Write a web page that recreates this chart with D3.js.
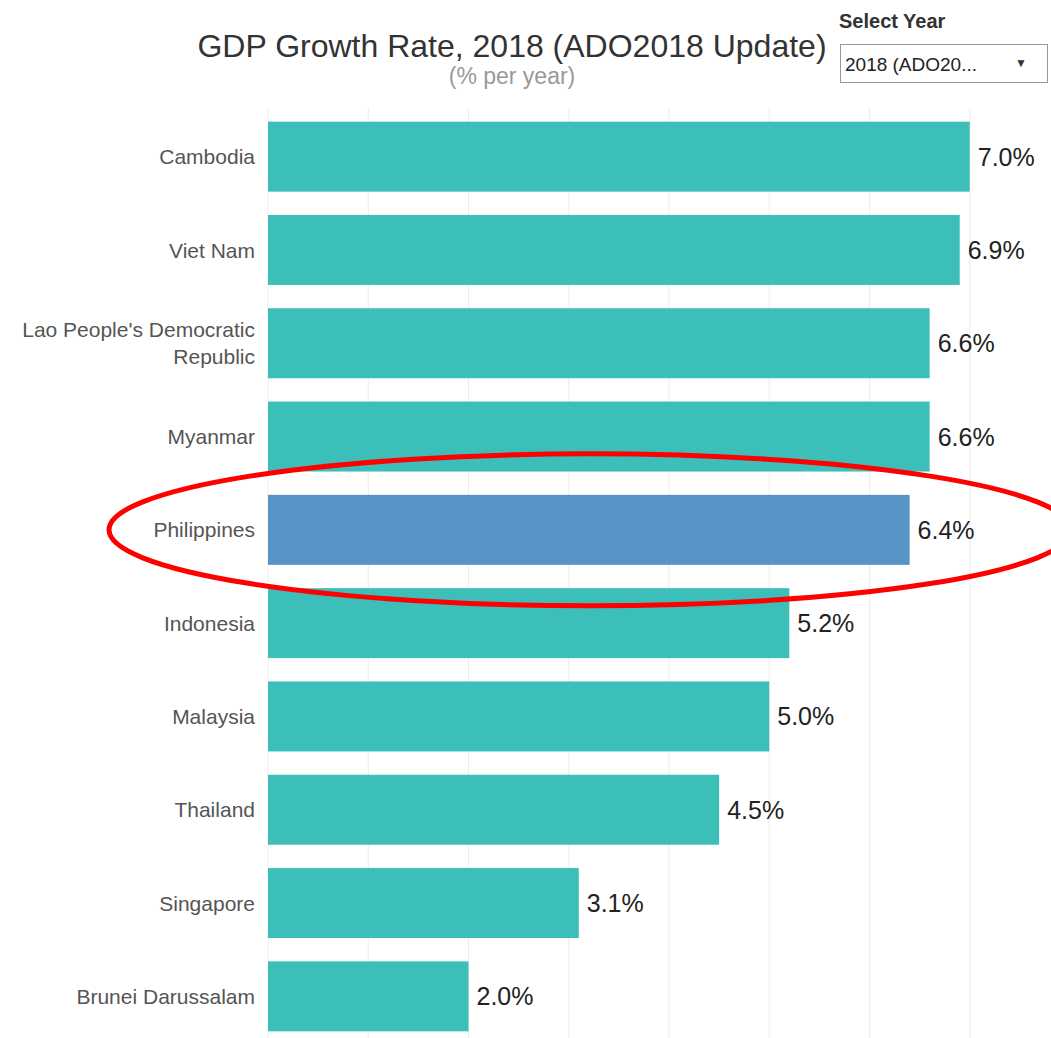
<!DOCTYPE html>
<html><head><meta charset="utf-8">
<script src="https://cdn.jsdelivr.net/npm/d3@7"></script>
<style>
body{margin:0;background:#fff;font-family:Arial,"Liberation Sans",sans-serif;}
</style></head>
<body><svg id="c" width="1051" height="1038"></svg>
<script>
const countries = ["Cambodia","Viet Nam","Lao People's Democratic Republic","Myanmar","Philippines","Indonesia","Malaysia","Thailand","Singapore","Brunei Darussalam"];
const growth = [7.0,6.9,6.6,6.6,6.4,5.2,5.0,4.5,3.1,2.0];
const highlight = ["Philippines"];
const gridTicks = [0,1,2,3,4,5,6,7,8];
const labelLines = {"Lao People's Democratic Republic":["Lao People's Democratic","Republic"]};

const svg = d3.select("#c");
const x = d3.scaleLinear().domain([0,8]).range([268,1070]);
const y = d3.scaleBand().domain(countries).range([110,1043]).paddingInner(0.25).paddingOuter(0.125);

// gridlines
svg.append("g").selectAll("line").data(gridTicks).join("line")
  .attr("x1",d=>x(d)).attr("x2",d=>x(d)).attr("y1",108).attr("y2",1038)
  .attr("stroke","#ececec").attr("stroke-width",1);

// bars
svg.append("g").selectAll("rect").data(countries).join("rect")
  .attr("x",x(0)).attr("y",d=>y(d)).attr("height",y.bandwidth())
  .attr("width",(d,i)=>x(growth[i])-x(0))
  .attr("fill",d=>highlight.includes(d)?"#5893c8":"#3bbfb8");

// value labels
svg.append("g").selectAll("text").data(countries).join("text")
  .attr("x",(d,i)=>x(growth[i])+8).attr("y",d=>y(d)+y.bandwidth()/2)
  .attr("dy","0.36em").attr("font-size",25).attr("fill","#222")
  .text((d,i)=>growth[i].toFixed(1)+"%");

// category labels
const lab = svg.append("g").selectAll("text").data(countries).join("text")
  .attr("x",255).attr("text-anchor","end").attr("font-size",21).attr("fill","#555");
lab.each(function(d){
  const lines = labelLines[d]||[d];
  const t = d3.select(this);
  const cy = y(d)+y.bandwidth()/2;
  lines.forEach((l,k)=>{
    t.append("tspan").attr("x",255).attr("y",cy+(k-(lines.length-1)/2)*27).attr("dy","0.36em").text(l);
  });
});

// title
svg.append("text").attr("x",512).attr("y",57).attr("text-anchor","middle")
  .attr("font-size",32).attr("fill","#333").text("GDP Growth Rate, 2018 (ADO2018 Update)");
svg.append("text").attr("x",512).attr("y",84).attr("text-anchor","middle")
  .attr("font-size",23).attr("fill","#999").text("(% per year)");

// selector
svg.append("text").attr("x",839).attr("y",28).attr("font-size",20).attr("font-weight","bold")
  .attr("fill","#333").text("Select Year");
svg.append("rect").attr("x",840.5).attr("y",44.5).attr("width",207).attr("height",38)
  .attr("fill","#fff").attr("stroke","#999");
svg.append("text").attr("x",845).attr("y",71).attr("font-size",19).attr("fill","#222").text("2018 (ADO20...");
svg.append("text").attr("x",1015).attr("y",67).attr("font-size",12).attr("fill","#333").text("▼");

// highlight ellipse
const hy = y("Philippines")+y.bandwidth()/2;
svg.append("ellipse").attr("cx",590).attr("cy",hy).attr("rx",481).attr("ry",76)
  .attr("fill","none").attr("stroke","#ff0000").attr("stroke-width",5);
</script></body></html>
